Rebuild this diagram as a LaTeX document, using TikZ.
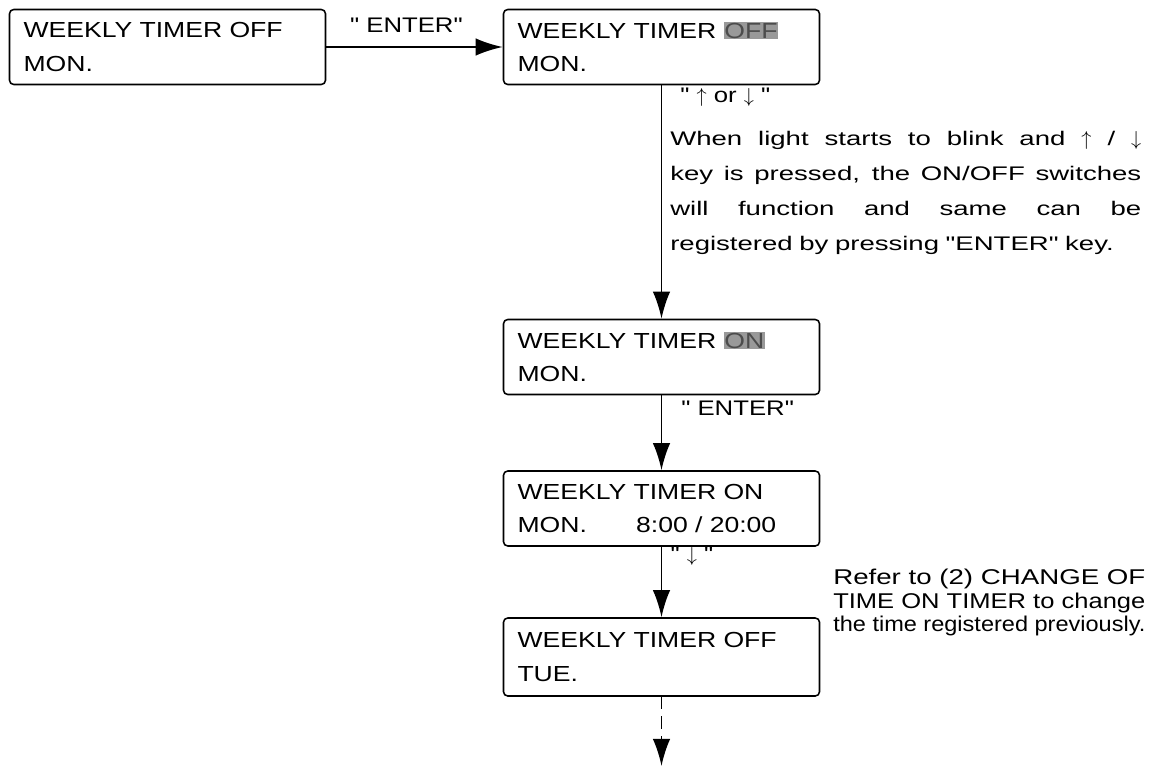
\documentclass[tikz,border=0pt]{standalone}
\usepackage{fontspec}
\usepackage{graphicx}
\usepackage{tikz}
\usetikzlibrary{arrows.meta}
\setmainfont{Liberation Sans}
\newfontfamily\boxFont[FakeStretch=1.22]{Liberation Sans}
\newfontfamily\noteFont[FakeStretch=1.4]{Liberation Sans}
\newcommand{\blinkOn}[1]{{\setlength{\fboxsep}{0.6pt}\colorbox{black!40}{\textcolor{black!70}{#1}}}}
\newcommand{\noteLine}[1]{\leavevmode\hbox to 335pt{\spaceskip=0.3em plus 1fil\relax #1}}
\newcommand{\referLine}[1]{\resizebox{222pt}{\height}{#1}}
\newcommand{\keyUp}{$\uparrow$}
\newcommand{\keyDown}{$\downarrow$}

\begin{document}
\begin{tikzpicture}

  \tikzstyle{lcdBox} = [draw, line width=1.1pt, rounded corners=3pt, minimum height=1.875cm, text width=7.2cm, inner xsep=0.35cm, inner ysep=0pt, align=left, font={\boxFont\fontsize{15.5}{24}\selectfont}];
  \tikzstyle{keyLabel} = [inner sep=0pt, font={\boxFont\fontsize{15}{17}\selectfont}];
  \tikzstyle{flowEdge} = [line width=1.4pt, -{Latex[length=0.68cm, width=0.44cm]}];

  \useasboundingbox (0,0) rectangle (28.8,-19.225);

  \node[lcdBox] (off) at (4.1875,-1.175) {WEEKLY TIMER OFF\\MON.};
  \node[lcdBox] (offBlink) at (16.5375,-1.175) {WEEKLY TIMER \blinkOn{OFF}\\MON.};
  \node[lcdBox] (onBlink) at (16.5375,-8.925) {WEEKLY TIMER \blinkOn{ON}\\MON.};
  \node[lcdBox] (onTimes) at (16.5375,-12.7125) {WEEKLY TIMER ON\\MON.\hspace{35pt}8:00 / 20:00};
  \node[lcdBox, minimum height=1.95cm] (tueOff) at (16.5375,-16.425) {WEEKLY TIMER OFF\\TUE.};
  \coordinate (nextDay) at (16.5375,-19.15);

  \node[keyLabel] (enterTop) at (10.16,-0.62) {" ENTER"};
  \node[keyLabel, anchor=west] (upDown) at (17.0,-2.43) {" \keyUp{} or \keyDown{} "};
  \node[keyLabel] (enterLow) at (18.44,-10.2) {" ENTER"};
  \node[keyLabel] (downKey) at (17.3,-13.9) {" \keyDown{} "};

  \node[anchor=north west, inner sep=0pt, text width=335pt, align=left, font={\noteFont\fontsize{14}{24.9}\selectfont}] (note) at (16.75,-3.28)
    {\noteLine{When light starts to blink and \keyUp{} / \keyDown}\\
     \noteLine{key is pressed, the ON/OFF switches}\\
     \noteLine{will function and same can be}\\
     registered by pressing "ENTER" key.};

  \node[anchor=north west, inner sep=0pt, align=left, font={\fontsize{15.2}{16.7}\selectfont}] (refer) at (20.825,-14.22)
    {\referLine{Refer to (2) CHANGE OF}\\
     \referLine{TIME ON TIMER to change}\\
     \referLine{the time registered previously.}};

  \draw[flowEdge] (off) -- (offBlink);
  \draw[flowEdge] (offBlink) -- (onBlink);
  \draw[flowEdge] (onBlink) -- (onTimes);
  \draw[flowEdge] (onTimes) -- (tueOff);
  \draw[flowEdge, dash pattern=on 9pt off 5pt] (tueOff) -- (nextDay);
\end{tikzpicture}
\end{document}
